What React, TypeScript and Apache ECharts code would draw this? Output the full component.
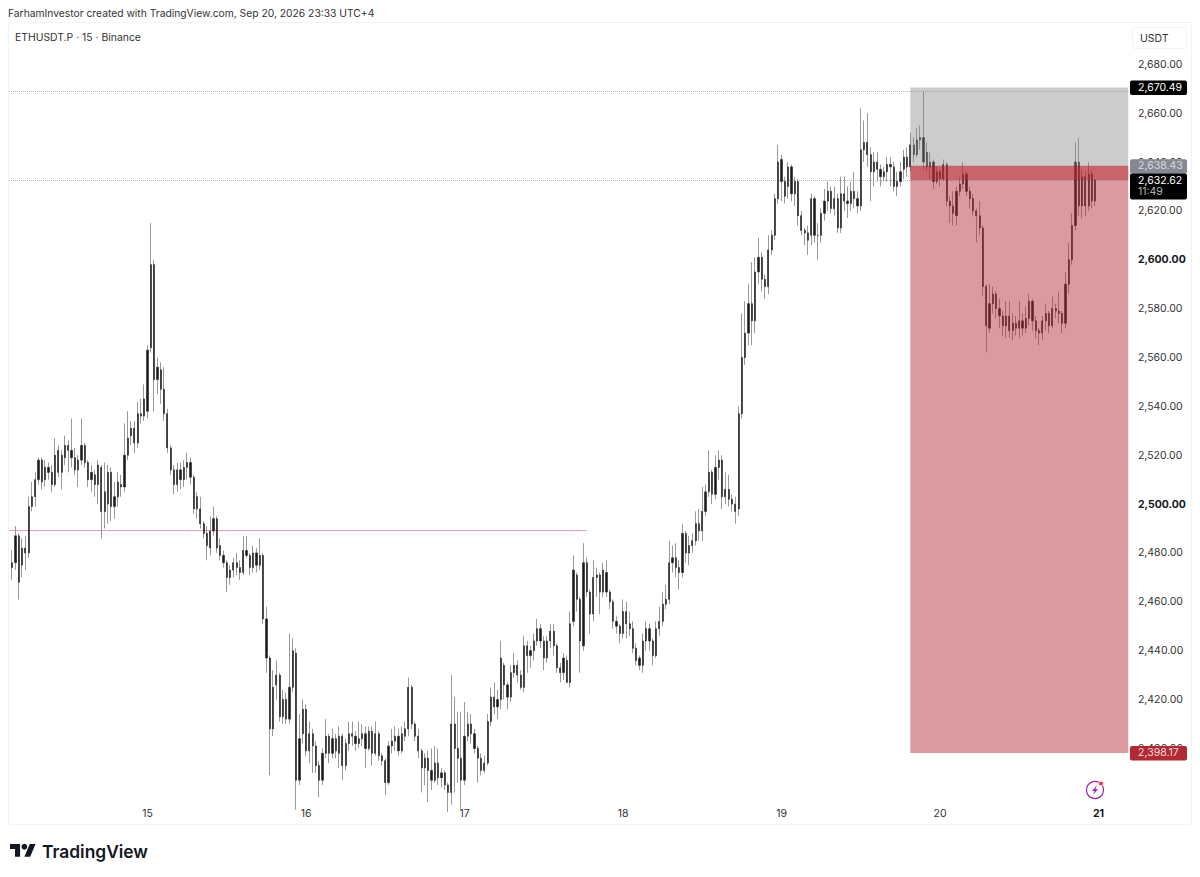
import React, { useEffect, useRef } from 'react';
import * as echarts from 'echarts';

// each bar: [open, close, low, high], 30 minute steps
const day14 = [
  [2474,2476,2469,2481],[2476,2487,2473,2491],[2487,2468,2461,2488],[2475,2482,2470,2486],[2482,2480,2473,2487],
  [2480,2499,2478,2503],[2499,2503,2497,2509],[2503,2510,2499,2513],[2510,2518,2508,2519],[2518,2509,2506,2519],
  [2510,2515,2507,2518],[2515,2513,2510,2517],[2513,2508,2505,2516],[2508,2520,2507,2527],[2522,2513,2511,2524],
  [2513,2520,2506,2522],[2519,2524,2516,2528],[2524,2522,2513,2526],[2522,2519,2515,2535],[2519,2514,2512,2523],
  [2514,2518,2507,2520],[2518,2524,2516,2535],[2524,2517,2515,2525],[2517,2510,2507,2518],[2510,2513,2505,2516],
  [2512,2508,2503,2514],[2508,2516,2500,2518],[2515,2497,2486,2516],[2497,2505,2490,2517],[2500,2513,2492,2516],
  [2513,2499,2493,2515],[2499,2503,2494,2509],[2503,2509,2499,2513],[2508,2507,2503,2512],[2507,2520,2505,2533],
  [2520,2527,2518,2538],[2528,2531,2524,2534],[2531,2525,2521,2534],[2525,2537,2523,2542],[2537,2536,2533,2543],
  [2536,2543,2534,2549],
];
const day15 = [
  [2538,2563,2535,2565],[2564,2598,2562,2615],[2598,2551,2538,2600],[2551,2556,2545,2560],[2555,2547,2541,2558],
  [2547,2537,2534,2556],[2537,2523,2521,2539],[2523,2514,2512,2524],[2514,2508,2504,2516],[2508,2514,2505,2517],
  [2514,2510,2506,2517],[2510,2515,2507,2518],[2515,2517,2510,2521],[2517,2511,2508,2519],[2511,2498,2496,2512],
  [2498,2503,2494,2505],[2498,2492,2490,2503],[2492,2488,2486,2493],[2488,2483,2477,2491],[2482,2489,2479,2495],
  [2489,2494,2487,2499],[2494,2482,2480,2495],[2483,2479,2477,2486],[2479,2476,2474,2481],[2476,2470,2464,2477],
  [2470,2473,2467,2475],[2473,2476,2470,2478],[2476,2474,2471,2480],[2474,2472,2469,2477],[2472,2481,2471,2487],
  [2481,2479,2478,2487],[2479,2474,2471,2480],[2474,2480,2472,2483],[2480,2475,2472,2482],[2475,2479,2473,2486],
  [2479,2453,2451,2480],[2453,2437,2431,2458],[2437,2408,2389,2438],[2408,2425,2405,2432],[2426,2430,2420,2436],
  [2430,2413,2411,2431],[2413,2420,2410,2424],[2420,2412,2410,2423],[2412,2425,2410,2447],[2425,2440,2423,2445],
  [2439,2387,2375,2441],[2387,2404,2385,2414],[2406,2416,2402,2420],
];
const day16 = [
  [2416,2399,2397,2418],[2399,2406,2394,2411],[2406,2401,2390,2408],[2401,2393,2390,2403],[2393,2387,2380,2395],
  [2387,2398,2385,2400],[2398,2405,2396,2412],[2405,2398,2394,2406],[2398,2404,2396,2408],[2404,2399,2396,2406],
  [2398,2405,2392,2409],[2405,2393,2387,2406],[2393,2402,2391,2404],[2402,2406,2399,2411],[2406,2405,2401,2411],
  [2405,2402,2399,2407],[2402,2404,2400,2411],[2404,2406,2401,2410],[2406,2400,2392,2409],[2400,2407,2399,2409],
  [2407,2398,2393,2409],[2398,2406,2397,2411],[2406,2397,2395,2407],[2397,2395,2393,2398],[2395,2386,2381,2396],
  [2386,2401,2385,2403],[2401,2403,2398,2408],[2403,2405,2399,2409],[2405,2399,2397,2408],[2399,2406,2398,2409],
  [2405,2408,2403,2411],[2408,2425,2405,2429],[2425,2410,2408,2426],[2410,2405,2403,2411],[2405,2399,2396,2408],
  [2399,2392,2382,2400],[2392,2396,2385,2398],[2396,2391,2378,2399],[2391,2387,2383,2400],[2387,2394,2386,2401],
  [2394,2388,2385,2400],[2388,2390,2384,2392],[2390,2385,2383,2391],[2385,2382,2374,2386],[2382,2410,2377,2430],
  [2410,2400,2382,2421],[2400,2396,2386,2415],[2396,2387,2375,2415],
];
const day17 = [
  [2387,2405,2385,2419],[2405,2410,2403,2415],[2410,2406,2402,2414],[2406,2400,2398,2408],[2400,2396,2386,2401],
  [2396,2391,2389,2398],[2391,2394,2390,2397],[2394,2411,2393,2414],[2411,2421,2409,2425],[2421,2417,2414,2427],
  [2417,2420,2412,2424],[2420,2437,2416,2444],[2434,2426,2420,2435],[2426,2421,2416,2427],[2421,2431,2419,2434],
  [2431,2434,2429,2439],[2434,2430,2427,2436],[2430,2425,2424,2432],[2425,2442,2423,2446],[2442,2438,2431,2444],
  [2438,2440,2433,2442],[2440,2444,2436,2447],[2444,2449,2442,2453],[2449,2444,2441,2451],[2444,2437,2432,2446],
  [2437,2444,2435,2446],[2444,2448,2441,2451],[2448,2442,2438,2451],[2442,2433,2431,2443],[2433,2431,2427,2435],
  [2431,2437,2428,2439],[2436,2427,2427,2438],[2427,2451,2425,2456],[2452,2473,2450,2479],[2471,2461,2456,2472],
  [2461,2444,2431,2462],[2442,2476,2440,2484],[2476,2464,2462,2478],[2464,2455,2447,2465],[2455,2470,2452,2477],
  [2470,2471,2462,2474],[2471,2464,2455,2472],[2464,2473,2462,2476],[2472,2464,2462,2477],[2464,2460,2457,2465],
  [2460,2452,2449,2461],[2452,2450,2447,2454],[2450,2447,2443,2451],
];
const day18 = [
  [2447,2456,2445,2461],[2456,2451,2445,2460],[2451,2449,2446,2456],[2449,2441,2439,2452],[2441,2436,2434,2443],
  [2437,2434,2432,2438],[2434,2444,2431,2447],[2444,2449,2440,2452],[2449,2444,2440,2451],[2444,2438,2434,2445],
  [2438,2449,2437,2452],[2449,2452,2446,2458],[2452,2459,2450,2464],[2459,2461,2457,2467],[2461,2476,2459,2485],
  [2476,2478,2472,2483],[2478,2474,2470,2484],[2474,2472,2465,2477],[2472,2488,2470,2492],[2488,2480,2476,2489],
  [2480,2483,2475,2487],[2483,2485,2480,2488],[2485,2492,2483,2497],[2492,2489,2485,2498],[2489,2497,2485,2507],
  [2497,2505,2495,2508],[2505,2513,2503,2522],[2513,2504,2500,2514],[2504,2515,2502,2520],[2515,2518,2510,2522],
  [2518,2503,2498,2520],[2503,2506,2500,2513],[2506,2502,2499,2512],[2502,2500,2497,2504],[2500,2497,2492,2503],
  [2498,2537,2495,2540],[2537,2560,2535,2578],[2560,2570,2557,2583],[2570,2582,2565,2590],[2582,2575,2565,2599],
  [2575,2595,2570,2601],[2595,2601,2590,2609],[2601,2592,2587,2603],[2592,2589,2584,2594],[2589,2604,2586,2610],
  [2604,2610,2602,2612],[2610,2625,2608,2627],[2625,2640,2623,2647],
];
const day19 = [
  [2641,2632,2624,2643],[2632,2626,2623,2634],[2630,2638,2625,2640],[2638,2627,2624,2639],[2627,2632,2622,2634],
  [2632,2618,2614,2633],[2618,2612,2610,2620],[2612,2611,2606,2613],[2611,2608,2602,2614],[2610,2625,2606,2627],
  [2625,2610,2607,2626],[2610,2610,2600,2615],[2610,2619,2607,2621],[2619,2624,2616,2629],[2624,2628,2620,2632],
  [2628,2621,2619,2630],[2621,2625,2618,2630],[2625,2613,2611,2627],[2613,2627,2611,2634],[2627,2624,2620,2634],
  [2624,2623,2617,2630],[2623,2628,2620,2632],[2628,2625,2621,2636],[2625,2622,2619,2628],[2622,2645,2620,2662],
  [2645,2648,2640,2657],[2648,2643,2638,2660],[2643,2636,2624,2646],[2636,2640,2630,2644],[2640,2637,2632,2644],
  [2637,2634,2630,2639],[2634,2636,2632,2638],[2636,2639,2632,2642],[2639,2638,2630,2642],[2638,2630,2628,2640],
  [2630,2632,2626,2636],[2632,2636,2630,2640],[2637,2642,2633,2645],[2642,2638,2634,2646],[2638,2647,2636,2652],
  [2647,2643,2640,2650],[2643,2649,2642,2654],[2649,2650,2645,2655],[2650,2640,2637,2669],[2644,2638,2636,2648],
  [2638,2640,2633,2644],[2640,2632,2629,2641],[2632,2636,2631,2638],
];
const day20 = [
  [2636,2633,2630,2637],[2633,2639,2632,2641],[2639,2624,2622,2640],[2624,2622,2615,2626],[2622,2619,2614,2628],
  [2618,2628,2614,2630],[2628,2631,2626,2634],[2631,2635,2629,2640],[2635,2628,2626,2636],[2628,2625,2621,2630],
  [2625,2620,2618,2627],[2620,2618,2607,2621],[2618,2613,2610,2624],[2613,2589,2585,2614],[2589,2573,2562,2590],
  [2572,2582,2570,2590],[2582,2586,2578,2589],[2586,2580,2576,2587],[2580,2577,2572,2584],[2577,2573,2569,2579],
  [2573,2577,2568,2583],[2577,2571,2568,2583],[2571,2574,2567,2578],[2574,2572,2569,2577],[2572,2575,2568,2583],
  [2575,2572,2569,2578],[2572,2576,2570,2581],[2576,2583,2573,2586],[2583,2575,2571,2584],[2575,2571,2568,2577],
  [2571,2570,2565,2572],[2570,2575,2567,2577],[2575,2578,2571,2582],[2578,2573,2570,2579],[2573,2580,2572,2585],
  [2580,2579,2576,2582],[2579,2578,2574,2587],[2578,2574,2570,2579],[2574,2590,2572,2595],[2590,2600,2586,2607],
  [2600,2614,2598,2619],[2614,2640,2612,2648],[2640,2622,2618,2650],[2622,2634,2617,2637],[2634,2622,2618,2636],
  [2622,2635,2620,2640],[2635,2624,2621,2637],[2624,2632.62,2622,2633],
];

const dayBars = [day14, day15, day16, day17, day18, day19, day20];
const dayNames = ['14', '15', '16', '17', '18', '19', '20', '21'];
const yTicks = [2680, 2660, 2640, 2620, 2600, 2580, 2560, 2540, 2520, 2500, 2480, 2460, 2440, 2420, 2400];
const boldTicks = [2600, 2500];
const slotCount = 339;

const takeProfit = 2398.17;
const entry = 2638.43;
const stop = 2670.49;
const lastPrice = 2632.62;
const highDotted = 2669.06;
const pinkLevel = 2489.4;
const pinkEndBar = 174;
const boxStartBar = 272;

const candles = dayBars.flat();
// same bars without their wicks, so the bodies can sit darker on top of grey wicks
const bodies = candles.map(([o, c]) => [o, c, Math.min(o, c), Math.max(o, c)]);
const categories: string[] = [];
const dayLabelAt: Record<string, string> = {};
dayBars.forEach((bars, d) => {
  bars.forEach((_, k) => {
    categories.push(`${dayNames[d]}-${k}`);
    if (k === 0 && d > 0) dayLabelAt[`${dayNames[d]}-${k}`] = dayNames[d];
  });
});
for (let k = 0; categories.length < slotCount; k++) {
  categories.push(`21-${k}`);
  if (k === 0) dayLabelAt[`21-${k}`] = '21';
}

const fmt = (v: number) => v.toLocaleString('en-US', { minimumFractionDigits: 2, maximumFractionDigits: 2 });
const FONT = 'Inter, "Liberation Sans", sans-serif';

const lastBar = slotCount - 1;

export default function App() {
  const chartRef = useRef<HTMLDivElement>(null);

  useEffect(() => {
    if (!chartRef.current) return;
    const chart = echarts.init(chartRef.current, undefined, { renderer: 'svg' });

    chart.setOption({
      animation: false,
      backgroundColor: '#ffffff',
      grid: { left: 10.5, right: 70.1, top: 23, bottom: 77 },
      xAxis: {
        type: 'category',
        data: categories,
        boundaryGap: true,
        axisLine: { show: false },
        axisTick: { show: false },
        splitLine: { show: false },
        axisLabel: {
          interval: (_: number, name: string) => name in dayLabelAt,
          formatter: (name: string) => {
            const label = dayLabelAt[name] || '';
            return label === '21' ? `{b|${label}}` : label;
          },
          margin: 8,
          color: '#333333',
          fontSize: 10.5,
          fontFamily: FONT,
          rich: { b: { fontWeight: 700, fontSize: 10.5, fontFamily: FONT, color: '#131722' } },
        },
      },
      yAxis: {
        type: 'value',
        position: 'right',
        min: 2378.89,
        max: 2696.89,
        scale: true,
        axisLine: { show: false },
        axisTick: { show: false, customValues: yTicks },
        splitLine: { show: false },
        axisLabel: {
          customValues: yTicks,
          margin: 8,
          color: '#333333',
          fontSize: 10.5,
          fontFamily: FONT,
          formatter: (v: number) => (boldTicks.includes(v) ? `{b|${fmt(v)}}` : fmt(v)),
          rich: { b: { fontWeight: 700, fontSize: 10.5, fontFamily: FONT, color: '#131722' } },
        },
      },
      series: [
        {
          type: 'candlestick',
          data: candles,
          barWidth: 0.6,
          clip: true,
          itemStyle: {
            color: '#999999',
            color0: '#999999',
            borderColor: '#999999',
            borderColor0: '#999999',
            borderWidth: 1,
          },
        },
        {
          type: 'candlestick',
          data: bodies,
          barWidth: 1.7,
          clip: true,
          itemStyle: {
            color: '#1a1a1a',
            color0: '#1a1a1a',
            borderColor: '#333333',
            borderColor0: '#333333',
            borderWidth: 0.7,
          },
          markArea: {
            silent: true,
            z: 5,
            data: [
              [
                { xAxis: boxStartBar, yAxis: stop, itemStyle: { color: 'rgba(130,130,130,0.41)' } },
                { xAxis: lastBar, yAxis: entry },
              ],
              [
                { xAxis: boxStartBar, yAxis: entry, itemStyle: { color: 'rgba(178,40,51,0.47)' } },
                { xAxis: lastBar, yAxis: takeProfit },
              ],
              [
                { xAxis: boxStartBar, yAxis: entry, itemStyle: { color: 'rgba(178,40,51,0.47)' } },
                { xAxis: lastBar, yAxis: lastPrice },
              ],
            ],
          },
        },
      ],
    });

    const py = (v: number) => chart.convertToPixel({ yAxisIndex: 0 }, v) as number;
    const px = (i: number) => chart.convertToPixel({ xAxisIndex: 0 }, i) as number;
    const levelLine = (value: number, x2: number, stroke: string, lineDash: number[] | null) => ({
      type: 'line',
      z: 0,
      silent: true,
      shape: { x1: 9, y1: Math.round(py(value)) + 0.5, x2, y2: Math.round(py(value)) + 0.5 },
      style: { stroke, lineWidth: 1, lineDash },
    });
    const badge = (value: number, top: number, h: number, fill: string, color: string) => [
      { type: 'rect', z: 30, shape: { x: 1130, y: py(value) + top, width: 57, height: h, r: 2 }, style: { fill } },
      {
        type: 'text',
        z: 31,
        style: {
          x: 1138,
          y: py(value),
          text: fmt(value),
          fill: color,
          fontSize: 10.5,
          fontFamily: FONT,
          verticalAlign: 'middle',
        },
      },
    ];

    chart.setOption({
      graphic: [
        {
          type: 'rect',
          z: -1,
          shape: { x: 8.5, y: 22.5, width: 1183, height: 802 },
          style: { fill: 'none', stroke: '#f0f3fa', lineWidth: 1 },
        },
        levelLine(highDotted, 1129, '#b2b5be', [1, 1]),
        levelLine(lastPrice, 1129, '#b2b5be', [1, 1]),
        levelLine(pinkLevel, px(pinkEndBar), '#ec9bb0', null),
        {
          type: 'text',
          style: {
            x: 8,
            y: 13,
            text: 'FarhamInvestor created with TradingView.com, Sep 20, 2026 23:33 UTC+4',
            fill: '#333333',
            fontSize: 10.3,
            fontFamily: FONT,
            verticalAlign: 'middle',
          },
        },
        {
          type: 'text',
          style: {
            x: 15,
            y: 37,
            text: 'ETHUSDT.P · 15 · Binance',
            fill: '#333333',
            fontSize: 10.4,
            fontFamily: FONT,
            verticalAlign: 'middle',
          },
        },
        {
          type: 'rect',
          shape: { x: 1132.5, y: 27.5, width: 54, height: 21, r: 2 },
          style: { fill: '#ffffff', stroke: '#f0f3fa', lineWidth: 1 },
        },
        {
          type: 'text',
          style: {
            x: 1140,
            y: 38,
            text: 'USDT',
            fill: '#333333',
            fontSize: 10.5,
            fontFamily: FONT,
            verticalAlign: 'middle',
          },
        },
        ...badge(entry, -6.5, 14.5, '#868993', '#d9dade'),
        ...badge(stop, -7, 14.5, '#000000', '#ffffff'),
        ...badge(lastPrice, -6.5, 26, '#000000', '#ffffff'),
        {
          type: 'text',
          z: 31,
          style: {
            x: 1138,
            y: py(lastPrice) + 11.5,
            text: '11:49',
            fill: '#b8b8b8',
            fontSize: 10.5,
            fontFamily: FONT,
            verticalAlign: 'middle',
          },
        },
        ...badge(takeProfit, -7, 14.5, '#b22833', '#f6dcdf'),
        // flash icon
        {
          type: 'circle',
          z: 20,
          shape: { cx: 1095, cy: 790, r: 8.5 },
          style: { fill: '#ffffff', stroke: '#9c27b0', lineWidth: 1.2 },
        },
        {
          type: 'polygon',
          z: 21,
          shape: { points: [[1097, 785], [1092, 791], [1094.6, 791], [1093, 795], [1098, 789], [1095.4, 789]] },
          style: { fill: '#9c27b0' },
        },
        {
          type: 'circle',
          z: 22,
          shape: { cx: 1101, cy: 783.5, r: 2.4 },
          style: { fill: '#f23645', stroke: '#ffffff', lineWidth: 0.8 },
        },
        // TradingView logo
        {
          type: 'group',
          x: 10,
          y: 841,
          scaleX: 0.72,
          scaleY: 0.72,
          children: [
            {
              type: 'polygon',
              shape: { points: [[14, 22], [7, 22], [7, 11], [0, 11], [0, 4], [14, 4]] },
              style: { fill: '#131722' },
            },
            {
              type: 'polygon',
              shape: { points: [[28, 22], [20, 22], [27.5, 4], [35.5, 4]] },
              style: { fill: '#131722' },
            },
            { type: 'circle', shape: { cx: 20, cy: 8, r: 4 }, style: { fill: '#131722' } },
          ],
        },
        {
          type: 'text',
          style: {
            x: 42,
            y: 851,
            text: 'TradingView',
            fill: '#131722',
            fontSize: 17.4,
            fontWeight: 600,
            fontFamily: FONT,
            verticalAlign: 'middle',
          },
        },
      ],
    });

    return () => chart.dispose();
  }, []);

  return <div ref={chartRef} style={{ position: 'absolute', left: 0, top: 0, width: 1200, height: 877 }} />;
}
